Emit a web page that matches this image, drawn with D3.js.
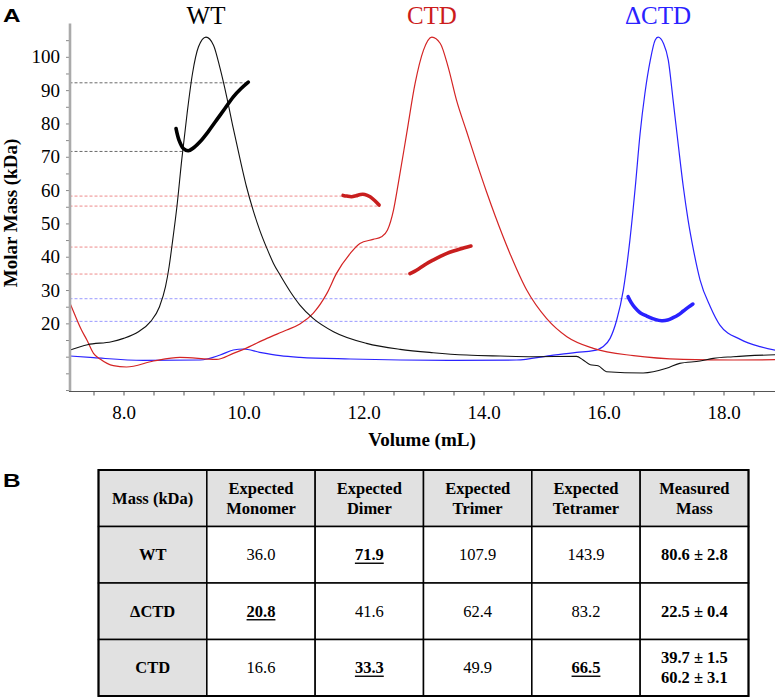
<!DOCTYPE html>
<html>
<head>
<meta charset="utf-8">
<script src="https://cdn.jsdelivr.net/npm/d3@7"></script>
</head>
<body style="margin:0">
<svg id="chart" width="775" height="698"></svg>
<div id="pad" style="position:absolute;left:0;top:0;width:1px;height:1px"></div>
<script>
// ---------------- DATA (panel A) ----------------
// Elution traces (normalized signal plotted on the molar-mass axis)
const wtVolume   = [7.11, 7.40, 7.80, 8.00, 8.25, 8.45, 8.60, 8.70, 8.76, 8.82, 8.89, 8.97, 9.06, 9.15, 9.25, 9.375, 9.50, 9.61, 9.72, 9.83, 9.94, 10.05, 10.16, 10.27, 10.39, 10.50, 10.61, 10.78, 10.94, 11.16, 11.50, 12.05, 12.61, 13.16, 13.72, 14.28, 14.83, 15.55, 15.66, 15.78, 15.91, 16.05, 16.66, 17.05, 17.27, 17.61, 17.83, 18.16, 18.90];
const wtSignal   = [12.0, 13.6, 14.5, 15.5, 17.5, 20.5, 25.0, 31.0, 37.0, 45.0, 55.0, 69.0, 83.0, 95.0, 103.0, 105.9, 103.5, 96.5, 88.0, 78.5, 69.5, 61.0, 54.0, 48.0, 42.5, 38.0, 34.5, 29.5, 25.5, 21.5, 17.5, 14.0, 12.2, 11.2, 10.5, 10.2, 10.0, 10.1, 9.0, 7.6, 7.3, 5.5, 5.1, 6.5, 8.0, 8.7, 9.5, 10.0, 10.6];

const ctdVolume  = [7.05, 7.11, 7.30, 7.39, 7.50, 7.61, 7.83, 8.05, 8.50, 8.94, 9.55, 9.83, 10.00, 10.39, 10.72, 10.94, 11.16, 11.39, 11.55, 11.78, 11.94, 12.16, 12.30, 12.40, 12.50, 12.58, 12.72, 12.86, 13.00, 13.14, 13.28, 13.41, 13.55, 13.72, 13.89, 14.05, 14.20, 14.44, 14.72, 15.05, 15.39, 15.83, 16.50, 17.33, 18.16, 18.90];
const ctdSignal  = [28.5, 26.0, 18.0, 15.0, 11.0, 9.3, 7.3, 6.9, 8.7, 9.8, 9.2, 11.0, 12.2, 15.5, 18.0, 19.8, 23.0, 29.0, 35.0, 41.0, 44.0, 45.2, 46.0, 48.0, 54.0, 62.0, 77.0, 92.0, 102.0, 105.9, 104.0, 97.0, 87.0, 77.5, 68.0, 59.5, 52.0, 41.0, 30.0, 21.5, 16.0, 12.5, 10.3, 9.2, 9.0, 9.1];

const dctdVolume = [7.11, 7.50, 8.33, 9.28, 9.61, 9.83, 10.00, 10.27, 10.61, 10.94, 11.78, 12.61, 13.44, 14.55, 15.11, 15.55, 15.83, 15.99, 16.11, 16.22, 16.33, 16.44, 16.53, 16.61, 16.69, 16.78, 16.86, 16.91, 17.00, 17.08, 17.16, 17.25, 17.33, 17.41, 17.50, 17.61, 17.78, 17.94, 18.28, 18.61, 18.90];
const dctdSignal = [10.2, 9.7, 8.9, 9.0, 10.5, 12.0, 12.3, 11.3, 10.3, 9.8, 9.3, 9.0, 8.9, 9.0, 10.3, 11.3, 11.8, 13.0, 15.5, 21.0, 30.0, 45.0, 61.0, 77.0, 89.0, 99.0, 105.0, 105.9, 104.0, 99.0, 87.0, 73.0, 61.0, 51.0, 42.0, 33.0, 25.0, 19.5, 15.2, 13.0, 11.8];

// Molar mass across each peak (kDa)
const wtMassVolume   = [8.875, 8.925, 8.997, 9.08, 9.175, 9.275, 9.41, 9.55, 9.69, 9.83, 9.96, 10.08];
const wtMass         = [78.5, 75.0, 72.5, 71.8, 72.8, 74.5, 77.5, 81.0, 84.5, 88.0, 90.5, 92.4];
const ctdMassVolumeA = [11.66, 11.72, 11.80, 11.875, 11.95, 12.02, 12.11, 12.19, 12.26];
const ctdMassA       = [58.4, 58.2, 58.0, 58.3, 58.7, 58.7, 58.0, 56.8, 55.5];
const ctdMassVolumeB = [12.775, 12.85, 12.94, 13.05, 13.16, 13.28, 13.39, 13.50, 13.61, 13.79];
const ctdMassB       = [34.9, 35.6, 36.6, 37.9, 39.0, 40.1, 41.0, 41.7, 42.3, 43.2];
const dctdMassVolume = [16.41, 16.46, 16.52, 16.61, 16.72, 16.86, 16.97, 17.07, 17.16, 17.25, 17.33, 17.41, 17.49];
const dctdMass       = [28.0, 26.3, 24.8, 23.2, 22.2, 21.2, 20.8, 21.0, 21.7, 22.6, 23.7, 24.8, 25.8];

// Dashed reference levels (kDa) and the volume each one runs to
const refLevels  = [92.2, 71.6, 58.2, 55.2, 42.9, 34.8, 27.4, 20.6];
const refEndVol  = [10.08, 9.0, 11.66, 12.26, 13.79, 12.775, 16.41, 16.97];
const refSeries  = ["WT", "WT", "CTD", "CTD", "CTD", "CTD", "dCTD", "dCTD"];

const seriesNames  = ["WT", "CTD", "ΔCTD"];
const seriesTitleVol = [9.375, 13.14, 16.91];

const yTickValues = [0, 5, 10, 15, 20, 25, 30, 35, 40, 45, 50, 55, 60, 65, 70, 75, 80, 85, 90, 95, 100, 105];
const yTickLabels = [20, 30, 40, 50, 60, 70, 80, 90, 100];
const xTickValues = [7.5, 8, 8.5, 9, 9.5, 10, 10.5, 11, 11.5, 12, 12.5, 13, 13.5, 14, 14.5, 15, 15.5, 16, 16.5, 17, 17.5, 18, 18.5];
const xTickLabels = [8, 10, 12, 14, 16, 18];

// ---------------- DATA (panel B table) ----------------
const tableHeaders = [["Mass (kDa)"], ["Expected", "Monomer"], ["Expected", "Dimer"], ["Expected", "Trimer"], ["Expected", "Tetramer"], ["Measured", "Mass"]];
const tableRows    = ["WT", "ΔCTD", "CTD"];
const expMonomer   = ["36.0", "20.8", "16.6"];
const expDimer     = ["71.9", "41.6", "33.3"];
const expTrimer    = ["107.9", "62.4", "49.9"];
const expTetramer  = ["143.9", "83.2", "66.5"];
const measuredMass = [["80.6 ± 2.8"], ["22.5 ± 0.4"], ["39.7 ± 1.5", "60.2 ± 3.1"]];
const matchedCells = [["WT", 2], ["ΔCTD", 1], ["CTD", 2], ["CTD", 4]];

// ---------------- COLOURS / FONTS ----------------
const colWT = "#000000", colCTD = "#d42424", colD = "#2a22ff";
const dashColor = { WT: "#6a6a6a", CTD: "#ee8a8a", dCTD: "#9a9aff" };
const SERIF = '"Liberation Serif"';
const SANS = '"Liberation Sans"';
const serifText = sel => sel.attr("font-family", SERIF).style("font-family", SERIF);

// ---------------- PANEL A ----------------
const svg = d3.select("#chart").attr("font-family", SERIF);
const x = d3.scaleLinear().domain([7.1, 18.9]).range([69.5, 777.5]);
const y = d3.scaleLinear().domain([0, 110]).range([390, 23.5]);

svg.append("defs").append("clipPath").attr("id", "plotclip")
  .append("rect").attr("x", 70).attr("y", 0).attr("width", 705).attr("height", 391);

const plot = svg.append("g").attr("clip-path", "url(#plotclip)");

plot.selectAll("line.ref").data(refLevels).join("line")
  .attr("class", "ref")
  .attr("x1", x(7.1)).attr("x2", (d, i) => x(refEndVol[i]))
  .attr("y1", d => y(d)).attr("y2", d => y(d))
  .attr("stroke", (d, i) => dashColor[refSeries[i]])
  .attr("stroke-width", 1)
  .attr("stroke-dasharray", "3,2");

const trace = d3.line().x(d => x(d[0])).y(d => y(d[1])).curve(d3.curveMonotoneX);
const zip = (a, b) => a.map((v, i) => [v, b[i]]);

plot.append("path").datum(zip(dctdVolume, dctdSignal)).attr("d", trace)
  .attr("fill", "none").attr("stroke", colD).attr("stroke-width", 1.2);
plot.append("path").datum(zip(ctdVolume, ctdSignal)).attr("d", trace)
  .attr("fill", "none").attr("stroke", colCTD).attr("stroke-width", 1.2);
plot.append("path").datum(zip(wtVolume, wtSignal)).attr("d", trace)
  .attr("fill", "none").attr("stroke", "#111").attr("stroke-width", 1.1);

const massLine = d3.line().x(d => x(d[0])).y(d => y(d[1])).curve(d3.curveCatmullRom);
[[wtMassVolume, wtMass, colWT], [ctdMassVolumeA, ctdMassA, "#c81e1e"], [ctdMassVolumeB, ctdMassB, "#c81e1e"], [dctdMassVolume, dctdMass, colD]]
  .forEach(([v, m, c]) => {
    plot.append("path").datum(zip(v, m)).attr("d", massLine)
      .attr("fill", "none").attr("stroke", c).attr("stroke-width", 3.6)
      .attr("stroke-linecap", "round").attr("stroke-linejoin", "round");
  });

// Y axis
const yAxis = d3.axisLeft(y).tickValues(yTickValues).tickSize(4).tickPadding(6)
  .tickFormat(d => yTickLabels.includes(d) ? String(d) : "");
const gy = svg.append("g").attr("transform", "translate(70,0)").call(yAxis);
gy.attr("font-family", SERIF).attr("font-size", 19);
gy.select(".domain").remove();
gy.selectAll(".tick line").attr("stroke", "#888").attr("stroke-width", 1);
gy.selectAll(".tick text").attr("fill", "#000").attr("font-size", 19).call(serifText);
gy.append("line").attr("x1", 0).attr("x2", 0).attr("y1", y(110)).attr("y2", y(0) + 1.5)
  .attr("stroke", "#aaaaaa").attr("stroke-width", 2.6);

// X axis
const xAxis = d3.axisBottom(x).tickValues(xTickValues).tickSize(4).tickPadding(10)
  .tickFormat(d => xTickLabels.includes(d) ? d3.format(".1f")(d) : "");
const gx = svg.append("g").attr("transform", "translate(0,391.5)").call(xAxis);
gx.attr("font-family", SERIF).attr("font-size", 19);
gx.select(".domain").remove();
gx.selectAll(".tick line").attr("stroke", "#555");
gx.selectAll(".tick text").attr("fill", "#000").attr("font-size", 19).call(serifText);
gx.append("line").attr("x1", 69).attr("x2", 775).attr("y1", 0).attr("y2", 0)
  .attr("stroke", "#555").attr("stroke-width", 1.2);

// Axis titles
svg.append("text").attr("x", 422).attr("y", 446).attr("text-anchor", "middle")
  .attr("font-size", 19).attr("font-weight", "bold").call(serifText).text("Volume (mL)");
svg.append("text").attr("transform", "translate(17,213) rotate(-90)").attr("text-anchor", "middle")
  .attr("font-size", 19).attr("font-weight", "bold").call(serifText).text("Molar Mass (kDa)");

// Series titles
svg.selectAll("text.stitle").data(seriesNames).join("text")
  .attr("class", "stitle")
  .attr("x", (d, i) => x(seriesTitleVol[i])).attr("y", 24)
  .attr("text-anchor", "middle").attr("font-size", 25).call(serifText)
  .attr("fill", (d, i) => [colWT, "#cc1c1c", colD][i])
  .text(d => d);

// Panel letters
const panelLetter = (t, px, py) => svg.append("text")
  .attr("transform", `translate(${px},${py}) scale(1.28,1)`)
  .attr("font-family", SANS).style("font-family", SANS)
  .attr("font-size", 19).attr("font-weight", "bold").text(t);
panelLetter("A", 3, 22);
panelLetter("B", 3, 487);

// ---------------- PANEL B (table) ----------------
const colKeys = d3.range(6);
const cx = d3.scaleBand().domain(colKeys).range([98.5, 748.5]);
const ry = d3.scaleBand().domain(d3.range(4)).range([470, 696]);
const tbl = svg.append("g");

const cells = [];
colKeys.forEach(c => d3.range(4).forEach(r => cells.push({ c, r })));
tbl.selectAll("rect.cell").data(cells).join("rect")
  .attr("class", "cell")
  .attr("x", d => cx(d.c)).attr("y", d => ry(d.r))
  .attr("width", cx.bandwidth()).attr("height", ry.bandwidth())
  .attr("fill", d => (d.r === 0 || d.c === 0) ? "#e1e1e1" : "#ffffff")
  .attr("stroke", "#000").attr("stroke-width", 1.5);
tbl.append("rect").attr("x", 98.5).attr("y", 470).attr("width", 650).attr("height", 226)
  .attr("fill", "none").attr("stroke", "#000").attr("stroke-width", 2);

const fs = 16.5;
function cellText(lines, c, r, bold, underline) {
  const mid = ry(r) + ry.bandwidth() / 2;
  const lh = 20;
  lines.forEach((t, k) => {
    const by = mid + 5.5 + (k - (lines.length - 1) / 2) * lh;
    const tx = tbl.append("text")
      .attr("x", cx(c) + cx.bandwidth() / 2).attr("y", by)
      .attr("text-anchor", "middle").attr("font-size", fs).call(serifText)
      .attr("font-weight", bold ? "bold" : "normal").text(t);
    if (underline) {
      const w = tx.node().getComputedTextLength();
      tbl.append("line")
        .attr("x1", cx(c) + cx.bandwidth() / 2 - w / 2).attr("x2", cx(c) + cx.bandwidth() / 2 + w / 2)
        .attr("y1", by + 3).attr("y2", by + 3)
        .attr("stroke", "#000").attr("stroke-width", 1.4);
    }
  });
}
tableHeaders.forEach((h, c) => cellText(h, c, 0, true, false));
const valueCols = [expMonomer, expDimer, expTrimer, expTetramer];
tableRows.forEach((name, i) => {
  const r = i + 1;
  cellText([name], 0, r, true, false);
  valueCols.forEach((col, j) => {
    const isMatch = matchedCells.some(m => m[0] === name && m[1] === j + 1);
    cellText([col[i]], j + 1, r, isMatch, isMatch);
  });
  cellText(measuredMass[i], 5, r, true, false);
});
</script>
</body>
</html>
